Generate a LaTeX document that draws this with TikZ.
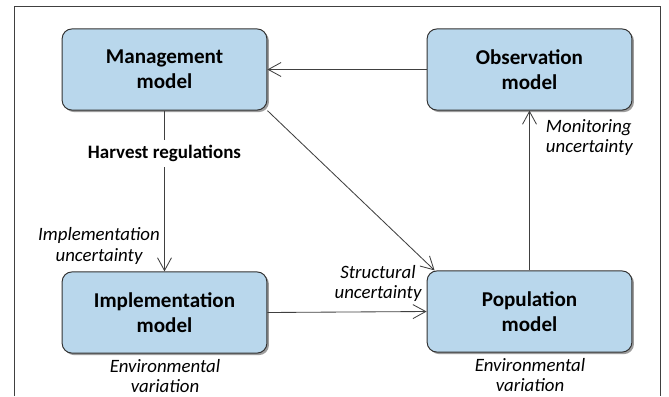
\documentclass[tikz,border=0pt]{standalone}
\usepackage{fontspec}
\setmainfont{Carlito}
\usetikzlibrary{arrows.meta,shadows}
\definecolor{modelblue}{RGB}{185,215,236}

\tikzset{
 modelbox/.style={draw=black!80, line width=0.7pt, fill=modelblue, rounded corners=0.25cm,
   minimum width=5.12cm, minimum height=2.03cm, align=center,
   font=\bfseries\fontsize{15}{18}\selectfont,
   drop shadow={shadow xshift=0.05cm, shadow yshift=-0.05cm, fill=black!70, opacity=0.55}},
 uncert/.style={align=center, font=\itshape\fontsize{13.4}{14.6}\selectfont},
 link/.style={draw=black!75, line width=0.6pt},
 linkto/.style={link, -{Straight Barb[length=3.2mm,width=3.5mm]}}
}

\begin{document}
\begin{tikzpicture}[x=0.025cm,y=-0.025cm]
%%%%%page and frame
\useasboundingbox (0,0) rectangle (669,396);
\draw[black!75, line width=0.7pt] (14,396) -- (14,6) -- (660,6) -- (660,396);

%%%%%the four models
\node[modelbox] (mgmt) at (164.5,69.5) {Management\\model};
\node[modelbox] (obs)  at (529.5,69.5) {Observation\\model};
\node[modelbox] (impl) at (164.5,312.5) {Implementation\\model};
\node[modelbox] (pop)  at (529.5,311.5) {Population\\model};

\node[inner sep=0, minimum height=0.68cm, font=\bfseries\fontsize{13.5}{16}\selectfont]
  (harv) at (164.5,153.5) {Harvest regulations};

%%%%%connectors
\draw[linkto] (obs.west) -- (mgmt.east);
\draw[link] (mgmt.south) -- (harv.north);
\draw[linkto] (harv.south) -- (impl.north);
\draw[linkto] (mgmt.south east) -- ([xshift=0.2cm]pop.north west);
\draw[linkto] (impl.east) -- (pop.west);
\draw[linkto] (pop.north) -- (obs.south);

%%%%%labels
\node[uncert] (implunc) at (99,246) {Implementation\\uncertainty};
\node[uncert] (strunc) at (378,283.5) {Structural\\uncertainty};
\node[uncert, align=left, anchor=west] (monunc) at (541,137.5) {Monitoring\\uncertainty};
\node[uncert] (envimpl) at (165,376) {Environmental\\variation};
\node[uncert] (envpop) at (530,375) {Environmental\\variation};
\end{tikzpicture}
\end{document}
